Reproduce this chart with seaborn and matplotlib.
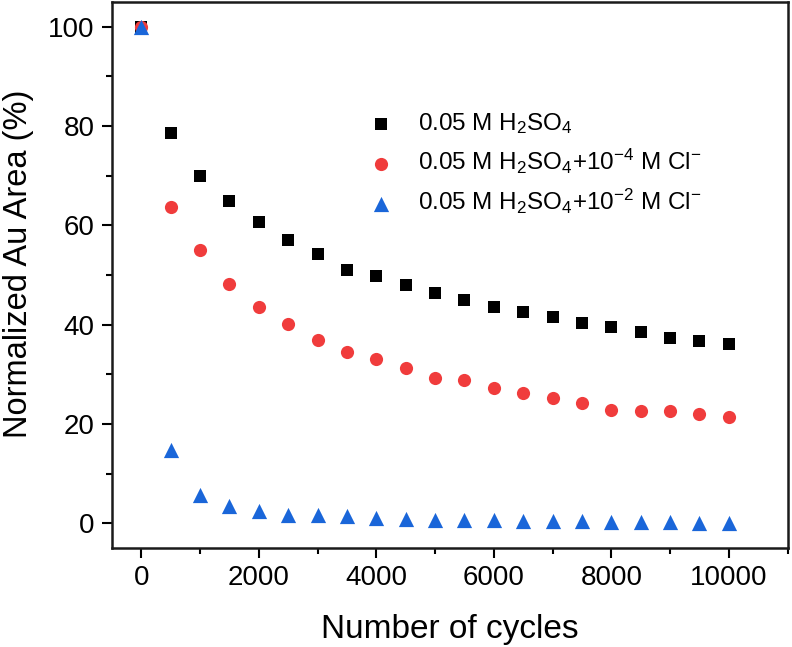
import pandas as pd
import matplotlib
matplotlib.use("Agg")
import matplotlib.pyplot as plt
from matplotlib.ticker import MultipleLocator
import seaborn as sns

# Data
cycles = [0, 500, 1000, 1500, 2000, 2500, 3000, 3500, 4000, 4500, 5000,
          5500, 6000, 6500, 7000, 7500, 8000, 8500, 9000, 9500, 10000]
h2so4 = [100, 78.5, 70.0, 65.0, 60.7, 57.0, 54.3, 51.0, 49.8, 48.0, 46.3,
         45.0, 43.6, 42.5, 41.6, 40.4, 39.5, 38.6, 37.4, 36.7, 36.0]
cl_1e4 = [100, 63.6, 55.0, 48.1, 43.6, 40.2, 37.0, 34.5, 33.0, 31.2, 29.2,
          28.8, 27.3, 26.2, 25.2, 24.3, 22.9, 22.5, 22.5, 22.0, 21.3]
cl_1e2 = [100, 14.8, 5.7, 3.5, 2.4, 1.6, 1.6, 1.5, 1.0, 0.8, 0.7,
          0.6, 0.6, 0.5, 0.5, 0.4, 0.3, 0.2, 0.2, 0.1, 0.0]

labels = [r"0.05 M H$_2$SO$_4$",
          r"0.05 M H$_2$SO$_4$+10$^{-4}$ M Cl$^{-}$",
          r"0.05 M H$_2$SO$_4$+10$^{-2}$ M Cl$^{-}$"]
series = [h2so4, cl_1e4, cl_1e2]
colors = ["black", "#F03C3C", "#1A66D9"]
markers = ["s", "o", "^"]
msizes = [64, 90, 120]

sns.set_style("ticks")
plt.rcParams['font.family'] = ['Liberation Sans', 'DejaVu Sans']
plt.rcParams['mathtext.fontset'] = 'custom'
plt.rcParams['mathtext.rm'] = 'Liberation Sans'
plt.rcParams['mathtext.it'] = 'Liberation Sans:italic'
plt.rcParams['text.color'] = 'black'
plt.rcParams['axes.labelcolor'] = 'black'
plt.rcParams['xtick.color'] = 'black'
plt.rcParams['ytick.color'] = 'black'

fig = plt.figure(figsize=(7.92, 6.47), dpi=100)
ax = fig.add_axes([0.1414, 0.153, 0.853, 0.844])

for lab, ys, c, m, s in zip(labels, series, colors, markers, msizes):
    df = pd.DataFrame({"cycles": cycles, "area": ys})
    sns.scatterplot(data=df, x="cycles", y="area", color=c, marker=m, s=s,
                    linewidth=0, label=lab, ax=ax)

ax.set_xlim(-500, 11000)
ax.set_ylim(-5, 105)
ax.xaxis.set_major_locator(MultipleLocator(2000))
ax.xaxis.set_minor_locator(MultipleLocator(1000))
ax.yaxis.set_major_locator(MultipleLocator(20))
ax.yaxis.set_minor_locator(MultipleLocator(10))
ax.tick_params(which="major", direction="out", length=7.5, width=1.5,
               labelsize=20, pad=5)
ax.tick_params(which="minor", direction="out", length=4.5, width=1.5)
for sp in ax.spines.values():
    sp.set_visible(True)
    sp.set_linewidth(1.8)
    sp.set_color("#1a1a1a")

ax.set_xlabel("Number of cycles", fontsize=24, labelpad=16)
ax.set_ylabel("Normalized Au Area (%)", fontsize=23.5, labelpad=10)
ax.yaxis.label.set_y(0.52)

ax.legend(loc="upper left", bbox_to_anchor=(0.377, 0.80), frameon=False,
          fontsize=17.5, handlelength=1.2, handletextpad=0.9,
          labelspacing=0.45, borderaxespad=0, borderpad=0)

fig.savefig("out.png", dpi=100)
